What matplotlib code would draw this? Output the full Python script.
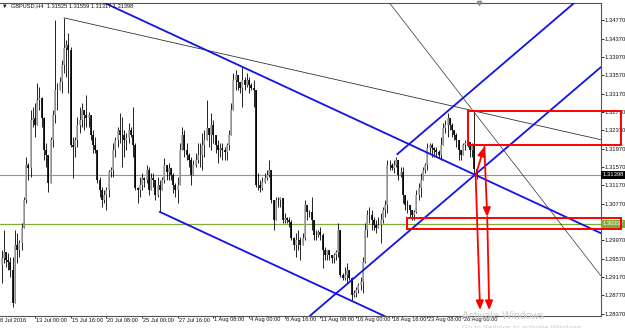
import numpy as np
import matplotlib
matplotlib.use("Agg")
import matplotlib.pyplot as plt
from matplotlib.patches import Rectangle
from matplotlib.transforms import blended_transform_factory

plt.rcParams['font.family'] = ['Liberation Sans', 'DejaVu Sans']

# GBPUSD H4 bars (index 0 = 8 Jul 2016)
first_open = 1.2950
highs = [
    1.2961, 1.2976, 1.3020, 1.2961, 1.2970, 1.2961, 1.2961, 1.3020, 1.3013, 1.2998,
    1.3035, 1.3092, 1.3179, 1.3166, 1.3281, 1.3288, 1.3297, 1.3340, 1.3331, 1.3310,
    1.3266, 1.3209, 1.3150, 1.3222, 1.3281, 1.3477, 1.3340, 1.3353, 1.3390, 1.3482,
    1.3434, 1.3449, 1.3419, 1.3222, 1.3222, 1.3266, 1.3288, 1.3297, 1.3281, 1.3314,
    1.3277, 1.3259, 1.3238, 1.3222, 1.3187, 1.3135, 1.3113, 1.3107, 1.3113, 1.3150,
    1.3157, 1.3209, 1.3222, 1.3244, 1.3275, 1.3266, 1.3238, 1.3231, 1.3253, 1.3244,
    1.3288, 1.3209, 1.3113, 1.3135, 1.3144, 1.3135, 1.3161, 1.3157, 1.3144, 1.3144,
    1.3129, 1.3135, 1.3129, 1.3135, 1.3177, 1.3157, 1.3166, 1.3150, 1.3144, 1.3122,
    1.3135, 1.3209, 1.3244, 1.3238, 1.3209, 1.3187, 1.3179, 1.3172, 1.3187, 1.3209,
    1.3209, 1.3231, 1.3238, 1.3303, 1.3238, 1.3275, 1.3259, 1.3222, 1.3216, 1.3209,
    1.3209, 1.3201, 1.3209, 1.3238, 1.3297, 1.3362, 1.3368, 1.3353, 1.3340, 1.3375,
    1.3353, 1.3362, 1.3353, 1.3340, 1.3347, 1.3297, 1.3144, 1.3129, 1.3135, 1.3144,
    1.3150, 1.3172, 1.3150, 1.3079, 1.3092, 1.3092, 1.3092, 1.3085, 1.3057, 1.3048,
    1.3048, 1.3041, 1.3004, 1.3013, 1.3020, 1.3004, 1.3013, 1.3085, 1.3070, 1.3063,
    1.3092, 1.3041, 1.3020, 1.3020, 1.3026, 1.3013, 1.2983, 1.2976, 1.2970, 1.2961,
    1.2970, 1.2976, 1.3035, 1.3020, 1.2926, 1.2939, 1.2948, 1.2926, 1.2917, 1.2889,
    1.2895, 1.2904, 1.2917, 1.2961, 1.3035, 1.3063, 1.3070, 1.3063, 1.3048, 1.3041,
    1.3048, 1.3057, 1.3070, 1.3085, 1.3172, 1.3172, 1.3166, 1.3172, 1.3179, 1.3172,
    1.3157, 1.3157, 1.3085, 1.3085, 1.3070, 1.3063, 1.3063, 1.3107, 1.3122, 1.3144,
    1.3157, 1.3166, 1.3209, 1.3209, 1.3209, 1.3201, 1.3201, 1.3194, 1.3222, 1.3253,
    1.3259, 1.3275, 1.3259, 1.3253, 1.3238, 1.3231, 1.3216, 1.3194, 1.3209, 1.3216,
    1.3216, 1.3209, 1.3209, 1.3277, 1.31559,
]
lows = [
    1.2926, 1.2904, 1.2948, 1.2939, 1.2932, 1.2917, 1.2852, 1.2861, 1.2948, 1.2961,
    1.2976, 1.3035, 1.3079, 1.3129, 1.3135, 1.3244, 1.3222, 1.3259, 1.3281, 1.3244,
    1.3172, 1.3157, 1.3102, 1.3122, 1.3201, 1.3253, 1.3281, 1.3325, 1.3318, 1.3362,
    1.3353, 1.3318, 1.3201, 1.3133, 1.3179, 1.3201, 1.3231, 1.3244, 1.3238, 1.3244,
    1.3244, 1.3216, 1.3187, 1.3187, 1.3122, 1.3092, 1.3070, 1.3079, 1.3063, 1.3092,
    1.3135, 1.3135, 1.3179, 1.3201, 1.3209, 1.3157, 1.3179, 1.3194, 1.3209, 1.3222,
    1.3179, 1.3107, 1.3079, 1.3092, 1.3107, 1.3113, 1.3122, 1.3096, 1.3107, 1.3113,
    1.3085, 1.3092, 1.3059, 1.3113, 1.3122, 1.3129, 1.3129, 1.3129, 1.3100, 1.3092,
    1.3079, 1.3122, 1.3194, 1.3179, 1.3172, 1.3157, 1.3118, 1.3144, 1.3157, 1.3166,
    1.3157, 1.3150, 1.3179, 1.3222, 1.3201, 1.3194, 1.3209, 1.3187, 1.3166, 1.3179,
    1.3172, 1.3172, 1.3172, 1.3194, 1.3231, 1.3281, 1.3325, 1.3325, 1.3318, 1.3288,
    1.3325, 1.3331, 1.3318, 1.3325, 1.3288, 1.3113, 1.3107, 1.3102, 1.3107, 1.3122,
    1.3129, 1.3135, 1.3079, 1.3020, 1.3057, 1.3070, 1.3070, 1.3035, 1.3035, 1.3035,
    1.3026, 1.2998, 1.2976, 1.2961, 1.2976, 1.2954, 1.2991, 1.2998, 1.3041, 1.3048,
    1.3020, 1.2998, 1.2998, 1.3004, 1.2998, 1.2937, 1.2954, 1.2954, 1.2954, 1.2948,
    1.2948, 1.2954, 1.2961, 1.2917, 1.2911, 1.2911, 1.2904, 1.2911, 1.2867, 1.2874,
    1.2874, 1.2882, 1.2889, 1.2882, 1.2948, 1.3004, 1.3035, 1.3020, 1.3020, 1.3013,
    1.3026, 1.2991, 1.3035, 1.3048, 1.3057, 1.3150, 1.3150, 1.3144, 1.3157, 1.3129,
    1.3135, 1.3079, 1.3063, 1.3057, 1.3048, 1.3041, 1.3041, 1.3057, 1.3085, 1.3092,
    1.3135, 1.3144, 1.3150, 1.3187, 1.3179, 1.3179, 1.3179, 1.3177, 1.3172, 1.3216,
    1.3231, 1.3222, 1.3238, 1.3222, 1.3216, 1.3201, 1.3172, 1.3172, 1.3187, 1.3194,
    1.3201, 1.3179, 1.3179, 1.3138, 1.31317,
]
closes = [
    1.2943, 1.2959, 1.2972, 1.2954, 1.2950, 1.2932, 1.2861, 1.2987, 1.2976, 1.2991,
    1.3024, 1.3085, 1.3161, 1.3155, 1.3259, 1.3264, 1.3249, 1.3303, 1.3307, 1.3264,
    1.3194, 1.3183, 1.3122, 1.3216, 1.3270, 1.3325, 1.3325, 1.3342, 1.3379, 1.3416,
    1.3423, 1.3412, 1.3205, 1.3201, 1.3216, 1.3249, 1.3259, 1.3281, 1.3270, 1.3264,
    1.3270, 1.3227, 1.3205, 1.3194, 1.3129, 1.3107, 1.3085, 1.3096, 1.3107, 1.3146,
    1.3150, 1.3194, 1.3216, 1.3238, 1.3227, 1.3227, 1.3216, 1.3220, 1.3238, 1.3227,
    1.3205, 1.3111, 1.3107, 1.3118, 1.3133, 1.3129, 1.3150, 1.3107, 1.3133, 1.3129,
    1.3096, 1.3118, 1.3107, 1.3129, 1.3161, 1.3146, 1.3155, 1.3140, 1.3118, 1.3107,
    1.3118, 1.3194, 1.3227, 1.3194, 1.3183, 1.3172, 1.3140, 1.3161, 1.3172, 1.3183,
    1.3183, 1.3205, 1.3216, 1.3242, 1.3227, 1.3249, 1.3227, 1.3205, 1.3194, 1.3198,
    1.3194, 1.3190, 1.3205, 1.3227, 1.3281, 1.3347, 1.3357, 1.3342, 1.3329, 1.3347,
    1.3336, 1.3347, 1.3336, 1.3329, 1.3325, 1.3118, 1.3118, 1.3111, 1.3124, 1.3133,
    1.3140, 1.3150, 1.3085, 1.3041, 1.3085, 1.3085, 1.3089, 1.3041, 1.3046, 1.3041,
    1.3037, 1.3002, 1.2987, 1.2998, 1.2998, 1.2987, 1.3002, 1.3074, 1.3059, 1.3059,
    1.3041, 1.3009, 1.3009, 1.3015, 1.3009, 1.2976, 1.2965, 1.2976, 1.2965, 1.2959,
    1.2965, 1.2972, 1.3020, 1.2922, 1.2915, 1.2922, 1.2932, 1.2915, 1.2878, 1.2882,
    1.2889, 1.2900, 1.2906, 1.2950, 1.3020, 1.3052, 1.3052, 1.3041, 1.3031, 1.3024,
    1.3031, 1.3041, 1.3063, 1.3074, 1.3161, 1.3161, 1.3155, 1.3161, 1.3172, 1.3140,
    1.3146, 1.3096, 1.3074, 1.3074, 1.3063, 1.3052, 1.3059, 1.3096, 1.3111, 1.3129,
    1.3150, 1.3161, 1.3198, 1.3205, 1.3198, 1.3194, 1.3190, 1.3183, 1.3205, 1.3242,
    1.3249, 1.3264, 1.3249, 1.3238, 1.3227, 1.3216, 1.3194, 1.3183, 1.3205, 1.3209,
    1.3211, 1.3194, 1.3205, 1.31525, 1.31398,
]

time_labels = ["8 Jul 2016", "13 Jul 00:00", "15 Jul 16:00", "20 Jul 08:00",
               "25 Jul 00:00", "27 Jul 16:00", "1 Aug 08:00", "4 Aug 00:00",
               "8 Aug 16:00", "11 Aug 08:00", "16 Aug 00:00", "18 Aug 16:00",
               "23 Aug 08:00", "26 Aug 00:00"]
bars_per_label = 16
price_ticks = [1.28370 + 0.004 * k for k in range(17)]
hidden_price_label = "1.30370"   # covered by the level box in the terminal

last_price = 1.31398
support_level = 1.30332

# drawn objects: (bar index, price) anchors
thin_ray = ([29, 213], [1.3482, 1.3279])
thin_steep = ([180, 260], [1.3483, 1.2981])
blue_down = ([46.1, 213.3], [1.3517, 1.3140])
blue_down_start = (72, 1.3059)
blue_up = ([150, 213.3], [1.2877, 1.3140])
blue_up_start = (178.5, 1.3185)
red_boxes = [((210.0, 1.3205), (278.6, 1.3280)),
             ((182.8, 1.3022), (278.6, 1.3046))]
red_arrows = [((213.6, 1.3139), (217.5, 1.3201)),
              ((217.5, 1.3201), (218.8, 1.3048)),
              ((213.6, 1.3139), (215.6, 1.2845)),
              ((218.8, 1.3048), (219.7, 1.2845))]

assert len(highs) == len(lows) == len(closes)

W, H = 625, 328
fig = plt.figure(figsize=(W / 100, H / 100), dpi=100)
ax = fig.add_axes([0, 12.5 / H, 600.5 / W, 313 / H])
x_lo, x_hi = 0.3, 269.6
y_lo, y_hi = 1.28332, 1.35155
ax.set_xlim(x_lo, x_hi)
ax.set_ylim(y_lo, y_hi)

# candles
idx = np.arange(len(closes))
c = np.array(closes)
o = np.array([first_open] + closes[:-1])
hi = np.maximum(np.array(highs), np.maximum(o, c))
lo = np.minimum(np.array(lows), np.minimum(o, c))
up = c >= o
ax.vlines(idx, lo, hi, color="black", lw=0.6, zorder=2)
ax.vlines(idx[up], o[up], c[up], color="#a4a4a4", lw=1.2, zorder=3)
ax.vlines(idx[~up], o[~up], c[~up], color="black", lw=1.2, zorder=3)

# horizontal levels
ax.axhline(last_price, color="#8796aa", lw=0.8, zorder=1)
ax.axhline(support_level, color="#86a838", lw=0.9, zorder=1)

# thin trend lines
slope = (thin_ray[1][1] - thin_ray[1][0]) / (thin_ray[0][1] - thin_ray[0][0])
ax.plot([thin_ray[0][0], x_hi], [thin_ray[1][0], thin_ray[1][0] + slope * (x_hi - thin_ray[0][0])],
        color="#333333", lw=0.6, zorder=4)
ax.axline((thin_steep[0][0], thin_steep[1][0]), (thin_steep[0][1], thin_steep[1][1]),
          color="#333333", lw=0.5, zorder=4)

# blue channels
blue = "#1212e8"
ax.axline((blue_down[0][0], blue_down[1][0]), (blue_down[0][1], blue_down[1][1]),
          color=blue, lw=1.3, zorder=4)
s_down = (blue_down[1][1] - blue_down[1][0]) / (blue_down[0][1] - blue_down[0][0])
ax.plot([blue_down_start[0], x_hi],
        [blue_down_start[1], blue_down_start[1] + s_down * (x_hi - blue_down_start[0])],
        color=blue, lw=1.3, zorder=4)
ax.axline((blue_up[0][0], blue_up[1][0]), (blue_up[0][1], blue_up[1][1]),
          color=blue, lw=1.3, zorder=4)
s_up = (blue_up[1][1] - blue_up[1][0]) / (blue_up[0][1] - blue_up[0][0])
ax.plot([blue_up_start[0], x_hi],
        [blue_up_start[1], blue_up_start[1] + s_up * (x_hi - blue_up_start[0])],
        color=blue, lw=1.3, zorder=4)

# red boxes and arrows
for (x0, y0), (x1, y1) in red_boxes:
    ax.add_patch(Rectangle((x0, y0), x1 - x0, y1 - y0, fill=False, ec="#ff0000",
                           lw=1.4, clip_on=False, zorder=6))
for start, end in red_arrows:
    ax.annotate("", xy=end, xytext=start, annotation_clip=False, zorder=6,
                arrowprops=dict(arrowstyle="-|>,head_length=0.6,head_width=0.25",
                                color="#ff0000", lw=1.3, shrinkA=0, shrinkB=0,
                                mutation_scale=9))

# chart shift marker
ax.plot([215.1], [y_hi], marker="v", ms=3, color="#8090a0", clip_on=False, zorder=7)

# axes styling
ax.spines["left"].set_visible(False)
for side in ["right", "top", "bottom"]:
    ax.spines[side].set_color("#555555")
    ax.spines[side].set_linewidth(0.8)
ax.yaxis.tick_right()
ax.set_yticks(price_ticks)
ylabels = ["%.5f" % p for p in price_ticks]
ax.set_yticklabels(["" if s == hidden_price_label else s for s in ylabels])
ax.tick_params(axis="y", direction="out", length=2, width=0.6, pad=1.2,
               labelsize=4.2, colors="#111111")
tick_pos = [bars_per_label * k for k in range(len(time_labels))]
ax.set_xticks(tick_pos[1:])
ax.set_xticklabels([])
ax.tick_params(axis="x", direction="out", length=1.7, width=0.6, colors="#111111")
for pos, lab in zip(tick_pos, time_labels):
    ax.annotate(lab, xy=(pos, 0), xycoords=("data", "axes fraction"),
                xytext=(1, -4.5), textcoords="offset pixels",
                ha="left", va="center", fontsize=4.1, color="#111111",
                annotation_clip=False)

# price boxes on the axis
tr = blended_transform_factory(ax.transAxes, ax.transData)
ax.text(1.004, last_price, "1.31398", transform=tr, ha="left", va="center",
        fontsize=4.2, color="white", clip_on=False,
        bbox=dict(boxstyle="square,pad=0.25", fc="black", ec="none"))
ax.text(1.004, support_level, "1.30332", transform=tr, ha="left", va="center",
        fontsize=4.2, color="white", clip_on=False,
        bbox=dict(boxstyle="square,pad=0.25", fc="#86a838", ec="none"))

# header and watermark
fig.text(2 / W, 1 - 6 / H, "\u25bc  GBPUSD,H4  1.31525 1.31559 1.31317 1.31398",
         fontsize=4.1, va="center", ha="left", color="#111111")
fig.text(462 / W, 1 - 319 / H, "Activate Windows", fontsize=7.5,
         color="#cccccc", va="baseline", ha="left")
fig.text(462 / W, 1 - 329.5 / H, "Go to Settings to activate Windows.", fontsize=5.5,
         color="#cccccc", va="baseline", ha="left")

fig.savefig("out.png", dpi=100)
